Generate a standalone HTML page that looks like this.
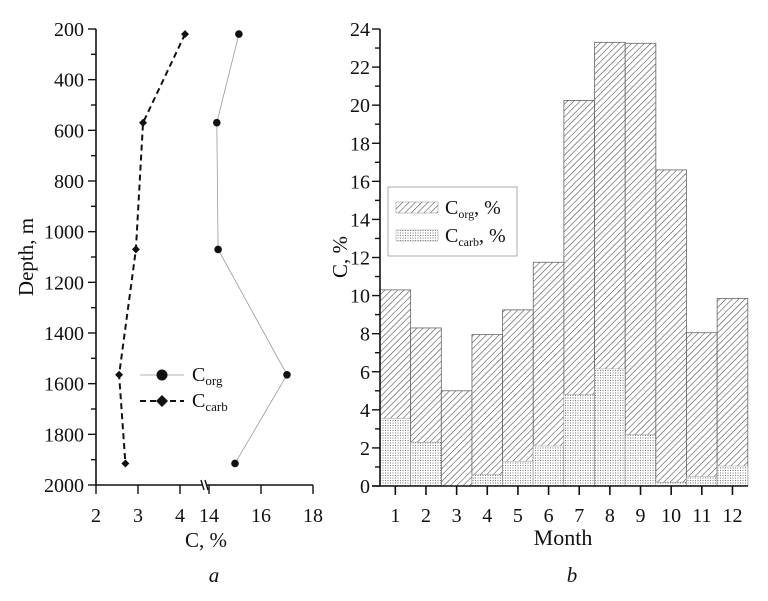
<!DOCTYPE html>
<html><head><meta charset="utf-8"><style>
body{margin:0;background:#fff}
text{font-family:"Liberation Serif",serif;fill:#111}
</style></head><body>
<svg width="768" height="596" viewBox="0 0 768 596" xmlns="http://www.w3.org/2000/svg">
<defs>
<pattern id="hatch" width="4.5" height="4.5" patternUnits="userSpaceOnUse" patternTransform="rotate(45)">
<rect width="5" height="5" fill="#fff"/><line x1="0" y1="0" x2="0" y2="5" stroke="#444" stroke-width="1.1"/></pattern>
<pattern id="dots" width="2.5" height="2.5" patternUnits="userSpaceOnUse">
<rect width="3" height="3" fill="#fff"/><rect width="1" height="1" fill="#777"/></pattern>
</defs>
<g id="left"></g>
<g id="right"></g>
</svg>
<script>
const depths=[220,570,1070,1565,1915];
const corgValues=[15.15,14.3,14.35,17.0,15.0];
const ccarbValues=[4.12,3.12,2.95,2.55,2.7];
const months=[1,2,3,4,5,6,7,8,9,10,11,12];
const monthCorg=[10.3,8.3,5.0,7.95,9.25,11.75,20.25,23.3,23.25,16.6,8.05,9.85];
const monthCarb=[3.55,2.3,0,0.6,1.3,2.1,4.8,6.15,2.7,0.2,0.5,1.05];
const depthTicks=[200,400,600,800,1000,1200,1400,1600,1800,2000];
const xTicksLow=[2,3,4];
const xTicksHigh=[14,16,18];
const cTicks=[0,2,4,6,8,10,12,14,16,18,20,22,24];

const NS="http://www.w3.org/2000/svg";
function mk(p,tag,a,txt){const e=document.createElementNS(NS,tag);for(const k in a)e.setAttribute(k,a[k]);if(txt!==undefined)e.textContent=txt;p.appendChild(e);return e;}
const L=document.getElementById('left'),R=document.getElementById('right');
const FS=20;
const B=485;

const yD=d=>29+(d-200)/1800*(B-29);
const xC=v=>v<10?96+(v-2)*42:209+(v-14)*26;
let e=mk(L,'line',{x1:96,y1:29,x2:96,y2:B,stroke:'#111','stroke-width':1.6});

e=mk(L,'line',{x1:96,y1:B,x2:203,y2:B,stroke:'#111','stroke-width':1.6});

e=mk(L,'line',{x1:206,y1:B,x2:313,y2:B,stroke:'#111','stroke-width':1.6});

mk(L,'path',{d:`M201,${B-5} l3,10 M205,${B-5} l3,10`,stroke:'#111','stroke-width':1.4,fill:'none'});
for(let d=200;d<=2000;d+=100){const y=yD(d);mk(L,'line',{x1:d%200?91:88,y1:y,x2:96,y2:y,stroke:'#111','stroke-width':1.4});}
depthTicks.forEach(d=>{e=mk(L,'text',{x:84,y:yD(d)+7,'text-anchor':'end','font-size':FS},d);
});
xTicksLow.concat(xTicksHigh).forEach(v=>{const x=xC(v);mk(L,'line',{x1:x,y1:B,x2:x,y2:B+9,stroke:'#111','stroke-width':1.4});
e=mk(L,'text',{x:x,y:522,'text-anchor':'middle','font-size':FS},v);
});
e=mk(L,'text',{x:206,y:547,'text-anchor':'middle','font-size':21},'C, %');

e=mk(L,'text',{x:0,y:0,'text-anchor':'middle','font-size':21,transform:'translate(33,257) rotate(-90)'},'Depth, m');

e=mk(L,'text',{x:214,y:582,'text-anchor':'middle','font-size':21,'font-style':'italic'},'a');

e=mk(L,'polyline',{points:depths.map((d,i)=>xC(corgValues[i])+','+yD(d)).join(' '),fill:'none',stroke:'#999','stroke-width':0.8});

e=mk(L,'polyline',{points:depths.map((d,i)=>xC(ccarbValues[i])+','+yD(d)).join(' '),fill:'none',stroke:'#111','stroke-width':2,'stroke-dasharray':'6,4'});

depths.forEach((d,i)=>{e=mk(L,'circle',{cx:xC(corgValues[i]),cy:yD(d),r:3.8,fill:'#111'});

const x=xC(ccarbValues[i]),y=yD(d);
e=mk(L,'polygon',{points:`${x-4},${y} ${x},${y-4} ${x+4},${y} ${x},${y+4}`,fill:'#111'});
});
let lg=mk(L,'g',{});
mk(lg,'line',{x1:140,y1:375,x2:184,y2:375,stroke:'#999','stroke-width':0.8});
mk(lg,'circle',{cx:162,cy:375,r:5.5,fill:'#111'});
let t=mk(lg,'text',{x:192,y:381,'font-size':FS},'C');mk(t,'tspan',{'font-size':13,dy:4},'org');
mk(lg,'line',{x1:140,y1:401,x2:184,y2:401,stroke:'#111','stroke-width':2,'stroke-dasharray':'6,4'});
mk(lg,'polygon',{points:'156,401 162,395 168,401 162,407',fill:'#111'});
t=mk(lg,'text',{x:192,y:407,'font-size':FS},'C');mk(t,'tspan',{'font-size':13,dy:4},'carb');

const x0=380,bw=30.65,BR=486;
const yV=v=>BR-v*(BR-29)/24;
months.forEach((m,i)=>{const x=x0+i*bw;
e=mk(R,'rect',{x:x,y:yV(monthCorg[i]),width:bw,height:BR-yV(monthCorg[i]),fill:'url(#hatch)',stroke:'#666','stroke-width':0.8});

e=mk(R,'rect',{x:x,y:yV(monthCarb[i]),width:bw,height:BR-yV(monthCarb[i]),fill:'url(#dots)',stroke:'#999','stroke-width':0.5});

mk(R,'line',{x1:x+bw/2,y1:BR,x2:x+bw/2,y2:BR+9,stroke:'#111','stroke-width':1.6});
e=mk(R,'text',{x:x+bw/2,y:522,'text-anchor':'middle','font-size':FS},m);
});
e=mk(R,'line',{x1:380,y1:29,x2:380,y2:BR,stroke:'#111','stroke-width':1.6});

e=mk(R,'line',{x1:372,y1:BR,x2:748,y2:BR,stroke:'#111','stroke-width':1.6});

for(let v=0;v<=24;v++)mk(R,'line',{x1:v%2?375:372,y1:yV(v),x2:380,y2:yV(v),stroke:'#111','stroke-width':1.4});
cTicks.forEach(v=>{e=mk(R,'text',{x:370,y:yV(v)+7,'text-anchor':'end','font-size':FS},v);
});
e=mk(R,'text',{x:563,y:545,'text-anchor':'middle','font-size':22},'Month');

e=mk(R,'text',{x:0,y:0,'text-anchor':'middle','font-size':21,transform:'translate(347,257) rotate(-90)'},'C, %');

e=mk(R,'text',{x:572,y:582,'text-anchor':'middle','font-size':21,'font-style':'italic'},'b');

lg=mk(R,'g',{});
mk(lg,'rect',{x:388,y:187,width:129,height:69,fill:'#fff',stroke:'#999','stroke-width':0.8});
mk(lg,'rect',{x:396,y:202,width:42,height:11,fill:'url(#hatch)',stroke:'#888','stroke-width':0.5});
mk(lg,'rect',{x:396,y:230,width:42,height:11,fill:'url(#dots)',stroke:'#999','stroke-width':0.5});
t=mk(lg,'text',{x:445,y:214,'font-size':FS},'C');mk(t,'tspan',{'font-size':12,dy:4},'org');mk(t,'tspan',{dy:-4},', %');
t=mk(lg,'text',{x:445,y:242,'font-size':FS},'C');mk(t,'tspan',{'font-size':12,dy:4},'carb');mk(t,'tspan',{dy:-4},', %');
</script>
</body></html>
